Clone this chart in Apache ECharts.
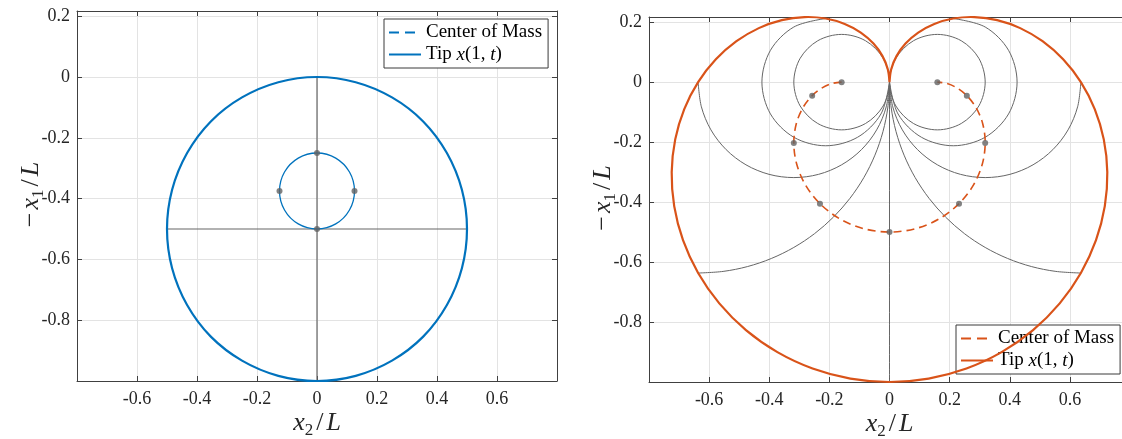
<!DOCTYPE html>
<html><head><meta charset="utf-8">
<script src="https://cdn.jsdelivr.net/npm/echarts@6/dist/echarts.min.js"></script>
<style>html,body{margin:0;padding:0;background:#fff}#c{width:1122px;height:439px}</style>
</head><body><div id="c"></div><script>
// ---------- data ----------
const xTickLabels = ['-0.6','-0.4','-0.2','0','0.2','0.4','0.6'];
const yTickLabels = ['-0.8','-0.6','-0.4','-0.2','0','0.2'];

// left panel
const leftTip = [[0,0],[0.129,-0.017],[0.25,-0.067],[0.354,-0.146],[0.433,-0.25],[0.483,-0.371],[0.5,-0.5],[0.483,-0.629],[0.433,-0.75],[0.354,-0.854],[0.25,-0.933],[0.129,-0.983],[0,-1],[-0.129,-0.983],[-0.25,-0.933],[-0.354,-0.854],[-0.433,-0.75],[-0.483,-0.629],[-0.5,-0.5],[-0.483,-0.371],[-0.433,-0.25],[-0.354,-0.146],[-0.25,-0.067],[-0.129,-0.017]];
const leftCom = [[0,-0.25],[0.0625,-0.2667],[0.1083,-0.3125],[0.125,-0.375],[0.1083,-0.4375],[0.0625,-0.4833],[0,-0.5],[-0.0625,-0.4833],[-0.1083,-0.4375],[-0.125,-0.375],[-0.1083,-0.3125],[-0.0625,-0.2667]];
const leftRodVertical = [[0,0],[0,-1]];
const leftRodHorizontal = [[-0.5,-0.5],[0.5,-0.5]];
const leftDots = [[0,-0.25],[-0.125,-0.375],[0.125,-0.375],[0,-0.5]];

// right panel
const rightTip = [[0,0],[-0.0057,0.0430],[-0.0233,0.0868],[-0.0533,0.1286],[-0.0955,0.1654],[-0.1490,0.1942],[-0.2122,0.2122],[-0.2828,0.2170],[-0.3581,0.2067],[-0.4347,0.1801],[-0.5091,0.1364],[-0.5776,0.0760],[-0.6366,0],[-0.6827,-0.0899],[-0.7128,-0.1910],[-0.7245,-0.3001],[-0.7162,-0.4135],[-0.6869,-0.5271],[-0.6366,-0.6366],[-0.5662,-0.7379],[-0.4775,-0.8270],[-0.3729,-0.9003],[-0.2559,-0.9549],[-0.1302,-0.9886],[0,-1],
  [0.1302,-0.9886],[0.2559,-0.9549],[0.3729,-0.9003],[0.4775,-0.8270],[0.5662,-0.7379],[0.6366,-0.6366],[0.6869,-0.5271],[0.7162,-0.4135],[0.7245,-0.3001],[0.7128,-0.1910],[0.6827,-0.0899],[0.6366,0],[0.5776,0.0760],[0.5091,0.1364],[0.4347,0.1801],[0.3581,0.2067],[0.2828,0.2170],[0.2122,0.2122],[0.1490,0.1942],[0.0955,0.1654],[0.0533,0.1286],[0.0233,0.0868],[0.0057,0.0430],[0,0]];
const rightCom = [[-0.1592,0],[-0.1887,-0.0040],[-0.2226,-0.0182],[-0.2572,-0.0450],[-0.2881,-0.0855],[-0.3101,-0.1389],[-0.3183,-0.2026],[-0.3090,-0.2723],[-0.2800,-0.3420],[-0.2313,-0.4053],[-0.1652,-0.4559],[-0.0861,-0.4887],[0,-0.5],
  [0.0861,-0.4887],[0.1652,-0.4559],[0.2313,-0.4053],[0.2800,-0.3420],[0.3090,-0.2723],[0.3183,-0.2026],[0.3101,-0.1389],[0.2881,-0.0855],[0.2572,-0.0450],[0.2226,-0.0182],[0.1887,-0.0040],[0.1592,0]];
const rodStraight = [[0,0],[0,-1]];
const rodQuarterL = [[0,0],[-0.0054,-0.0831],[-0.0217,-0.1648],[-0.0485,-0.2436],[-0.0853,-0.3183],[-0.1316,-0.3875],[-0.1865,-0.4501],[-0.2491,-0.5051],[-0.3183,-0.5513],[-0.3930,-0.5881],[-0.4718,-0.6149],[-0.5535,-0.6312],[-0.6366,-0.6366]];
const rodQuarterR = [[0,0],[0.0054,-0.0831],[0.0217,-0.1648],[0.0485,-0.2436],[0.0853,-0.3183],[0.1316,-0.3875],[0.1865,-0.4501],[0.2491,-0.5051],[0.3183,-0.5513],[0.3930,-0.5881],[0.4718,-0.6149],[0.5535,-0.6312],[0.6366,-0.6366]];
const rodHalfL = [[0,0],[-0.0109,-0.0824],[-0.0427,-0.1592],[-0.0932,-0.2251],[-0.1592,-0.2757],[-0.2359,-0.3075],[-0.3183,-0.3183],[-0.4007,-0.3075],[-0.4775,-0.2757],[-0.5434,-0.2251],[-0.5940,-0.1592],[-0.6257,-0.0824],[-0.6366,0]];
const rodHalfR = [[0,0],[0.0109,-0.0824],[0.0427,-0.1592],[0.0932,-0.2251],[0.1592,-0.2757],[0.2359,-0.3075],[0.3183,-0.3183],[0.4007,-0.3075],[0.4775,-0.2757],[0.5434,-0.2251],[0.5940,-0.1592],[0.6257,-0.0824],[0.6366,0]];
const rodThreeQL = [[0,0],[-0.0284,-0.1061],[-0.1061,-0.1838],[-0.2122,-0.2122],[-0.3183,-0.1838],[-0.3960,-0.1061],[-0.4244,0],[-0.3960,0.1061],[-0.3183,0.1838],[-0.2122,0.2122]];
const rodThreeQR = [[0,0],[0.0284,-0.1061],[0.1061,-0.1838],[0.2122,-0.2122],[0.3183,-0.1838],[0.3960,-0.1061],[0.4244,0],[0.3960,0.1061],[0.3183,0.1838],[0.2122,0.2122]];
const rodFullL = [[0,0],[-0.0213,-0.0796],[-0.0796,-0.1379],[-0.1592,-0.1592],[-0.2388,-0.1379],[-0.2971,-0.0796],[-0.3183,0],[-0.2971,0.0796],[-0.2388,0.1379],[-0.1592,0.1592],[-0.0796,0.1379],[-0.0213,0.0796]];
const rodFullR = [[0,0],[0.0213,-0.0796],[0.0796,-0.1379],[0.1592,-0.1592],[0.2388,-0.1379],[0.2971,-0.0796],[0.3183,0],[0.2971,0.0796],[0.2388,0.1379],[0.1592,0.1592],[0.0796,0.1379],[0.0213,0.0796]];
const rightDots = [[0,-0.5],[-0.2313,-0.4053],[0.2313,-0.4053],[-0.3183,-0.2026],[0.3183,-0.2026],[-0.2572,-0.0450],[0.2572,-0.0450],[-0.1592,0],[0.1592,0]];

// ---------- styling ----------
const FONT = 'Liberation Serif';
const BLUE = '#0072BD', RED = '#D95319', GRAY = '#666666', AX = '#404040', TXT = '#262626';
const nameRich = {
  i: {fontFamily: FONT, fontSize: 26, fontStyle: 'italic', lineHeight: 32, color: TXT},
  n: {fontFamily: FONT, fontSize: 26, lineHeight: 32, color: TXT},
  d: {fontFamily: FONT, fontSize: 26, lineHeight: 32, color: TXT, padding: [0, 3, 0, 3]},
  s: {fontFamily: FONT, fontSize: 17, lineHeight: 18, verticalAlign: 'bottom', color: TXT}
};
function lab(list) {
  return function (v) {
    if (Math.abs(v * 5 - Math.round(v * 5)) > 1e-6) return '';
    const s = String(Math.round(v * 10) / 10);
    return list.includes(s) ? s : '';
  };
}
function xAx(g, top) {
  return {
    gridIndex: g, type: 'value', min: -0.8, max: 0.8, interval: 0.2,
    position: top ? 'top' : 'bottom',
    axisLine: {show: true, onZero: false, lineStyle: {color: AX, width: 1}},
    axisTick: {show: true, inside: true, length: 5, lineStyle: {color: AX}},
    axisLabel: top ? {show: false} : {show: true, margin: 9, fontFamily: FONT, fontSize: 18, color: TXT, formatter: lab(xTickLabels)},
    splitLine: {show: !top, lineStyle: {color: '#e3e3e3', width: 1}},
    name: top ? '' : '{i|x}{s|2}{d|/}{i|L}', nameLocation: 'middle', nameGap: 26, nameMoveOverlap: false,
    nameTextStyle: {rich: nameRich}
  };
}
function yAx(g, right) {
  return {
    gridIndex: g, type: 'value', min: -1, max: 0.2172, interval: 0.2,
    position: right ? 'right' : 'left',
    axisLine: {show: true, onZero: false, lineStyle: {color: AX, width: 1}},
    axisTick: {show: true, inside: true, length: 5, lineStyle: {color: AX}},
    axisLabel: right ? {show: false} : {show: true, margin: 7, fontFamily: FONT, fontSize: 18, color: TXT, formatter: lab(yTickLabels)},
    splitLine: {show: !right, lineStyle: {color: '#e3e3e3', width: 1}},
    name: right ? '' : '{d|\u2212}{i|x}{s|1}{d|/}{i|L}', nameLocation: 'middle', nameGap: 30, nameRotate: 90, nameMoveOverlap: false,
    nameTextStyle: {rich: nameRich}
  };
}
// smooth curve drawn through the axes' own coordinate mapping
function curve(name, pts, ai, color, width, dashArr, z, closed) {
  return {
    type: 'custom', name, xAxisIndex: ai, yAxisIndex: ai, data: [pts[0]], silent: true, animation: false, z: z || 2,
    renderItem: function (params, api) {
      return {
        type: closed ? 'polygon' : 'polyline',
        shape: {points: pts.map(function (p) { return api.coord(p); }), smooth: 0.33},
        style: {stroke: color, lineWidth: width, fill: 'none', lineDash: dashArr || null}
      };
    }
  };
}
// empty line series only used for the legend icons
function legendLine(name, ai, color, width, type) {
  return {name, type: 'line', data: [], xAxisIndex: ai, yAxisIndex: ai, symbol: 'none',
    lineStyle: {color, width, type}, itemStyle: {color}, animation: false};
}
function dots(data, ai) {
  return {type: 'scatter', data, xAxisIndex: ai, yAxisIndex: ai, symbol: 'circle', symbolSize: 6,
    itemStyle: {color: '#636363'}, z: 10, silent: true, animation: false};
}
function legend(names, left, top) {
  return {
    data: names, orient: 'vertical', left, top, selectedMode: false,
    itemWidth: 32, itemHeight: 14, itemGap: 3, padding: [4, 6, 4, 4],
    borderColor: '#3a3a3a', borderWidth: 1, backgroundColor: '#fff', borderRadius: 0,
    itemStyle: {color: 'rgba(0,0,0,0)', borderColor: 'rgba(0,0,0,0)', borderWidth: 0, opacity: 0},
    textStyle: {fontFamily: FONT, fontSize: 19, color: '#000',
      rich: {n: {fontFamily: FONT, fontSize: 19, color: '#000'}, i: {fontFamily: FONT, fontSize: 19, fontStyle: 'italic', color: '#000'}}},
    formatter: function (name) {
      return name.trim().startsWith('Tip') ? '{n|Tip }{i|x}{n|(1, }{i|t}{n|)}' : '{n|Center of Mass}';
    }
  };
}
const dash = [8, 5];
const option = {
  backgroundColor: '#fff',
  animation: false,
  grid: [
    {left: 77, top: 11, width: 480, height: 370, show: false, outerBoundsMode: 'none', containLabel: false},
    {left: 649, top: 17, width: 481, height: 365, show: false, outerBoundsMode: 'none', containLabel: false}
  ],
  xAxis: [xAx(0, false), xAx(0, true), xAx(1, false), xAx(1, true)],
  yAxis: [yAx(0, false), yAx(0, true), yAx(1, false), yAx(1, true)],
  legend: [legend(['Center of Mass', 'Tip x(1,t)'], 384, 19), legend(['Center of Mass ', 'Tip x(1,t) '], 956, 325)],
  series: [
    // legend entries
    legendLine('Center of Mass', 0, BLUE, 1.6, [10, 6]),
    legendLine('Tip x(1,t)', 0, BLUE, 2.2, 'solid'),
    legendLine('Center of Mass ', 2, RED, 1.6, [10, 6]),
    legendLine('Tip x(1,t) ', 2, RED, 2.2, 'solid'),
    // left panel
    curve('rodV', leftRodVertical, 0, GRAY, 1.2, null, 1),
    curve('rodH', leftRodHorizontal, 0, GRAY, 1.2, null, 1),
    curve('comL', leftCom, 0, BLUE, 1.3, null, 3, true),
    curve('tipL', leftTip, 0, BLUE, 2.2, null, 4, true),
    dots(leftDots, 0),
    // right panel
    curve('r0', rodStraight, 2, GRAY, 1, null, 1),
    curve('r1', rodQuarterL, 2, GRAY, 1, null, 1),
    curve('r2', rodQuarterR, 2, GRAY, 1, null, 1),
    curve('r3', rodHalfL, 2, GRAY, 1, null, 1),
    curve('r4', rodHalfR, 2, GRAY, 1, null, 1),
    curve('r5', rodThreeQL, 2, GRAY, 1, null, 1),
    curve('r6', rodThreeQR, 2, GRAY, 1, null, 1),
    curve('r7', rodFullL, 2, GRAY, 1, null, 1, true),
    curve('r8', rodFullR, 2, GRAY, 1, null, 1, true),
    curve('comR', rightCom, 2, RED, 1.6, dash, 3),
    curve('tipR', rightTip, 2, RED, 2.2, null, 4),
    dots(rightDots, 2)
  ]
};
const chart = echarts.init(document.getElementById('c'), null, {renderer: 'canvas'});
chart.setOption(option);
</script></body></html>
